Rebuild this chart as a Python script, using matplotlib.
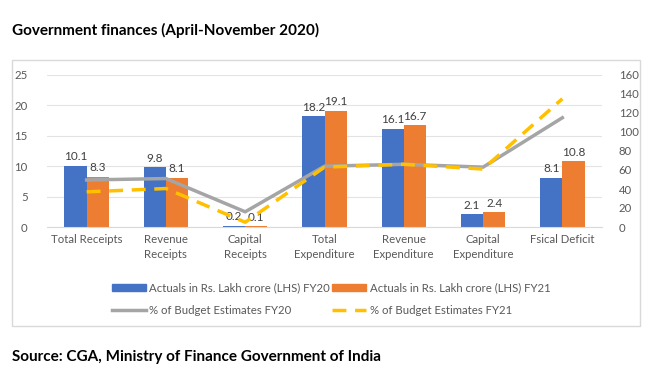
import matplotlib
matplotlib.use("Agg")
import matplotlib.pyplot as plt
import numpy as np
from matplotlib.patches import Rectangle
from matplotlib.lines import Line2D

categories = ["Total Receipts", "Revenue\nReceipts", "Capital\nReceipts", "Total\nExpenditure",
              "Revenue\nExpenditure", "Capital\nExpenditure", "Fsical Deficit"]
actual_fy20 = [10.1, 9.8, 0.2, 18.2, 16.1, 2.1, 8.1]
actual_fy21 = [8.3, 8.1, 0.1, 19.1, 16.7, 2.4, 10.8]
pct_be_fy20 = [49.5, 51, 16, 64, 66, 63, 115]
pct_be_fy21 = [37, 40.5, 5, 63, 66, 61, 135]
left_ticks = [0, 5, 10, 15, 20, 25]
right_ticks = [0, 20, 40, 60, 80, 100, 120, 140, 160]

plt.rcParams['font.family'] = ['Lato', 'DejaVu Sans']

BLUE = "#4472C4"
ORANGE = "#ED7D31"
GRAY = "#A5A5A5"
YELLOW = "#FFC000"
TXT = "#595959"

fig = plt.figure(figsize=(6.5, 3.74), dpi=100)
fig.patches.append(Rectangle((12/650, 1-326/374), 628/650, 266/374, transform=fig.transFigure,
                             fill=False, edgecolor="#D9D9D9", linewidth=1))
ax = fig.add_axes([47/650, 1-227/374, 555/650, 152/374])
x = np.arange(len(categories))
w = 0.28
ax.bar(x - w/2, actual_fy20, w, color=BLUE, zorder=2)
ax.bar(x + w/2, actual_fy21, w, color=ORANGE, zorder=2)
for xi, v in zip(x, actual_fy20):
    ax.text(xi - w/2, v + 0.6, f"{v}", ha="center", va="bottom", fontsize=8.5, color="#404040")
for xi, v in zip(x, actual_fy21):
    ax.text(xi + w/2, v + 0.6, f"{v}", ha="center", va="bottom", fontsize=8.5, color="#404040")
ax.set_xlim(-0.5, len(categories) - 0.5)
ax.set_ylim(0, 25)
ax.set_yticks(left_ticks)
ax.set_xticks(x)
ax.set_xticklabels(categories, fontsize=8.2, color=TXT, linespacing=1.5)
ax.tick_params(axis='both', length=0, labelsize=8.2, colors=TXT)
ax.tick_params(axis='y', pad=14)
ax.tick_params(axis='x', pad=5)
ax.grid(axis='y', color="#E3E3E3", linewidth=0.8, zorder=0)
ax.set_axisbelow(True)
for s in ax.spines.values():
    s.set_visible(False)
ax.spines['bottom'].set_visible(True)
ax.spines['bottom'].set_color("#D9D9D9")

ax2 = ax.twinx()
ax2.plot(x, pct_be_fy20, color=GRAY, linewidth=2.5, zorder=3)
ax2.plot(x, pct_be_fy21, color=YELLOW, linewidth=2.5, dashes=(4, 2.5), zorder=3)
ax2.set_ylim(0, 160)
ax2.set_yticks(right_ticks)
ax2.tick_params(axis='y', length=0, labelsize=8.2, colors=TXT, pad=12)
for s in ax2.spines.values():
    s.set_visible(False)

handles = [Rectangle((0, 0), 1, 1, color=BLUE), Rectangle((0, 0), 1, 1, color=ORANGE),
           Line2D([], [], color=GRAY, linewidth=2.5), Line2D([], [], color=YELLOW, linewidth=2.5, dashes=(4, 2.5))]
labels = ["Actuals in Rs. Lakh crore (LHS) FY20", "Actuals in Rs. Lakh crore (LHS) FY21",
          "% of Budget Estimates FY20", "% of Budget Estimates FY21"]
order = [0, 2, 1, 3]
fig.legend([handles[i] for i in order], [labels[i] for i in order], ncol=2,
           loc="center", bbox_to_anchor=(331/650, 1-299/374), frameon=False,
           fontsize=8.2, labelcolor=TXT, handlelength=3.0, handleheight=0.6,
           columnspacing=0.2, handletextpad=0.3, labelspacing=1.0)

fig.text(12/650, 1-30/374, "Government finances (April-November 2020)", fontsize=11,
         fontweight="bold", va="center", ha="left", color="black")
fig.text(12/650, 1-357/374, "Source: CGA, Ministry of Finance Government of India", fontsize=11,
         fontweight="bold", va="center", ha="left", color="black")

fig.savefig("out.png", dpi=100)
